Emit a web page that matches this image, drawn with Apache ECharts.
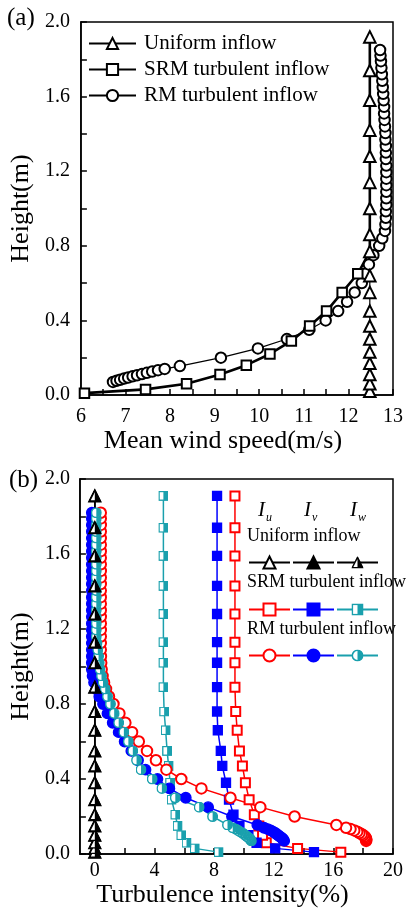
<!DOCTYPE html>
<html><head><meta charset="utf-8">
<script src="https://cdn.jsdelivr.net/npm/echarts@6/dist/echarts.min.js"></script>
<style>html,body{margin:0;padding:0;background:#fff}#c{width:406px;height:909px}</style>
</head><body><div id="c"></div>
<script>
// ---------- (a) Mean wind speed profiles ----------
const uniformHeightA = [0.02,0.06,0.11,0.17,0.23,0.30,0.37,0.45,0.55,0.64,0.77,0.86,1.00,1.14,1.28,1.42,1.58,1.74,1.92];
const uniformSpeedA  = [12.48,12.48,12.48,12.48,12.48,12.48,12.48,12.48,12.48,12.48,12.48,12.48,12.48,12.48,12.48,12.48,12.48,12.48,12.48];
const srmHeightA = [0.01,0.03,0.06,0.11,0.16,0.22,0.29,0.37,0.45,0.55,0.65,0.77,0.86,1.00,1.14,1.28,1.42,1.58,1.74,1.92];
const srmSpeedA  = [6.08,7.45,8.37,9.12,9.71,10.24,10.72,11.13,11.51,11.86,12.21,12.48,12.48,12.48,12.48,12.48,12.48,12.48,12.48,12.48];
const rmHeightA = [0.070,0.076,0.082,0.088,0.094,0.100,0.106,0.112,0.119,0.126,0.133,0.140,
  0.155,0.20,0.25,0.30,0.35,0.40,0.45,0.50,0.55,0.60,0.65,0.70,0.75,0.80,0.84,
  0.88,0.915,0.95,0.985,1.02,1.055,1.09,1.125,1.16,1.195,1.23,1.265,1.30,1.335,1.37,1.405,1.44,1.475,1.51,1.545,1.58,1.615,1.65,1.685,1.72,1.755,1.79,1.82,1.85];
const rmSpeedA = [6.72,6.80,6.88,6.97,7.06,7.16,7.26,7.37,7.48,7.60,7.73,7.88,
  8.22,9.14,9.97,10.62,11.12,11.49,11.77,11.97,12.14,12.30,12.38,12.46,12.56,12.69,12.76,
  12.82,12.83,12.84,12.84,12.85,12.85,12.85,12.85,12.85,12.85,12.85,12.84,12.84,12.84,12.83,12.83,12.82,12.81,12.80,12.80,12.79,12.78,12.77,12.76,12.75,12.74,12.73,12.72,12.71];

// ---------- (b) Turbulence intensity profiles ----------
const uniformHeightB = [0.01,0.03,0.06,0.10,0.15,0.21,0.29,0.38,0.47,0.55,0.66,0.76,0.89,1.02,1.13,1.28,1.43,1.59,1.74,1.91];
const uniformIu = [0,0,0,0,0,0,0,0,0,0,0,0,0,0,0,0,0,0,0,0];
const uniformIv = [0,0,0,0,0,0,0,0,0,0,0,0,0,0,0,0,0,0,0,0];
const uniformIw = [0,0,0,0,0,0,0,0,0,0,0,0,0,0,0,0,0,0,0,0];
const srmHeightB = [0.01,0.03,0.06,0.10,0.15,0.21,0.29,0.38,0.47,0.55,0.66,0.76,0.89,1.02,1.13,1.28,1.43,1.59,1.74,1.91];
const srmIu = [16.5,13.6,11.5,11.25,11.0,10.7,10.35,10.1,9.9,9.7,9.55,9.45,9.4,9.4,9.4,9.4,9.4,9.4,9.4,9.4];
const srmIv = [14.7,12.1,10.85,10.3,9.7,9.3,9.0,8.8,8.55,8.45,8.25,8.2,8.2,8.2,8.2,8.2,8.2,8.2,8.2,8.2];
const srmIw = [8.3,6.7,6.15,5.8,5.55,5.4,5.15,5.05,4.95,4.85,4.75,4.65,4.6,4.6,4.6,4.6,4.6,4.6,4.6,4.6];
const rmHeightB = [0.070,0.076,0.082,0.088,0.094,0.100,0.106,0.112,0.119,0.126,0.133,0.140,
  0.155,0.20,0.25,0.30,0.35,0.40,0.45,0.50,0.55,0.60,0.65,0.70,0.75,0.80,0.84,
  0.88,0.915,0.95,0.985,1.02,1.055,1.09,1.125,1.16,1.195,1.23,1.265,1.30,1.335,1.37,1.405,1.44,1.475,1.51,1.545,1.58,1.615,1.65,1.685,1.72,1.755,1.79,1.82];
const rmIu = [18.2,18.2,18.2,18.15,18.1,18.0,17.9,17.75,17.6,17.4,17.15,16.85,
  16.2,13.4,11.1,9.1,7.15,5.8,4.8,4.1,3.5,2.95,2.5,2.05,1.65,1.25,0.95,
  0.75,0.62,0.52,0.46,0.43,0.41,0.40,0.40,0.40,0.40,0.40,0.40,0.40,0.40,0.40,0.40,0.40,0.40,0.40,0.40,0.40,0.40,0.40,0.40,0.40,0.40,0.40,0.40];
const rmIv = [12.7,12.65,12.6,12.5,12.4,12.3,12.2,12.1,11.95,11.8,11.6,11.35,
  10.9,9.2,7.6,6.1,5.0,4.2,3.4,2.9,2.45,2.0,1.6,1.2,0.85,0.55,0.3,
  0.1,-0.05,-0.15,-0.2,-0.2,-0.2,-0.2,-0.2,-0.2,-0.2,-0.2,-0.2,-0.2,-0.2,-0.2,-0.2,-0.2,-0.2,-0.2,-0.2,-0.2,-0.2,-0.2,-0.2,-0.2,-0.2,-0.2,-0.2];
const rmIw = [10.5,10.45,10.4,10.3,10.2,10.1,10.0,9.9,9.75,9.6,9.45,9.25,
  8.9,7.9,7.0,5.4,4.5,3.85,3.1,2.8,2.55,2.25,1.95,1.6,1.3,1.05,0.85,
  0.7,0.55,0.45,0.35,0.3,0.25,0.2,0.15,0.1,0.1,0.1,0.1,0.1,0.1,0.1,0.1,0.1,0.1,0.1,0.1,0.1,0.1,0.1,0.1,0.1,0.1,0.1,0.1];

// ---------- tick labels ----------
const speedTicks = [6,7,8,9,10,11,12,13];
const heightTicks = [0,0.4,0.8,1.2,1.6,2.0];
const tiTicks = [0,4,8,12,16,20];
const tiMinorTicks = [0,2,4,6,8,10,12,14,16,18,20];

// ---------- styling helpers ----------
const FONT = 'Liberation Serif';
const RED = '#ff0000', BLUE = '#0000ff', TEAL = '#1aa0ad', BLACK = '#000000';
const pair = (xs, ys) => xs.map((x, i) => [x, ys[i]]);
const svgSym = body => 'image://data:image/svg+xml;charset=utf-8,' + encodeURIComponent(
  '<svg xmlns="http://www.w3.org/2000/svg" width="24" height="24" viewBox="0 0 24 24">' + body + '</svg>');
const halfSquare = c => svgSym('<rect x="1.6" y="1.6" width="20.8" height="20.8" fill="#fff" stroke="' + c + '" stroke-width="3.2"/><rect x="12" y="1.6" width="10.4" height="20.8" fill="' + c + '"/>');
const halfCircle = c => svgSym('<circle cx="12" cy="12" r="10.4" fill="#fff" stroke="' + c + '" stroke-width="3.2"/><path d="M12 1.6 A10.4 10.4 0 0 1 12 22.4 Z" fill="' + c + '"/>');
const halfTriangle = c => svgSym('<path d="M12 1.8 L22.6 22.4 L1.4 22.4 Z" fill="#fff" stroke="' + c + '" stroke-width="3"/><path d="M12 1.8 L22.6 22.4 L12 22.4 Z" fill="' + c + '"/>');
const isTick = (list, v) => list.some(t => Math.abs(t - v) < 1e-6);

function mk(name, xi, data, color, symbol, size, lw, extra) {
  return Object.assign({
    name, type: 'line', xAxisIndex: xi, yAxisIndex: xi, data,
    symbol, symbolSize: size, showSymbol: true,
    lineStyle: {color, width: lw},
    itemStyle: {color, borderColor: color, borderWidth: 1.3},
    emphasis: {disabled: true}, silent: true
  }, extra || {});
}

const axisCommon = {
  axisLine: {show: true, onZero: false, lineStyle: {color: '#000', width: 1.5}},
  axisTick: {show: true, inside: true, length: 6, lineStyle: {color: '#000', width: 1.5}},
  splitLine: {show: false},
  nameTextStyle: {fontFamily: FONT, fontSize: 26, color: '#000'}
};
const labelStyle = {fontFamily: FONT, fontSize: 20, color: '#000'};

const legendText = {fontFamily: FONT, fontSize: 21, color: '#000', padding: [0, 0, 0, 3]};
const blankLegend = (names, top) => ({
  data: names, left: 243, top, orient: 'horizontal', itemWidth: 41, itemHeight: 15,
  itemGap: 1, formatter: () => '', selectedMode: false, textStyle: {fontSize: 1}
});

const titleStyle = (text, left, top, size, extra) => Object.assign({
  text, left, top, padding: 0,
  textStyle: {fontFamily: FONT, fontSize: size, fontWeight: 'normal', color: '#000'}
}, extra || {});
const iRich = {
  i: {fontFamily: FONT, fontStyle: 'italic', fontWeight: 'normal', fontSize: 21, color: '#000'},
  s: {fontFamily: FONT, fontStyle: 'italic', fontWeight: 'normal', fontSize: 12, color: '#000', padding: [16, 0, 0, 1]}
};
const iTitle = (sub, left) => ({
  text: '{i|I}{s|' + sub + '}', left, top: 496, padding: 0,
  textStyle: {fontWeight: 'normal', fontFamily: FONT, rich: iRich}
});

// SRM (a): above the point where it joins the uniform profile, only the line is drawn
const srmDataA = pair(srmSpeedA, srmHeightA).map(p =>
  (p[0] >= uniformSpeedA[0] ? {value: p, symbol: 'none'} : p));

const option = {
  animation: false,
  backgroundColor: '#fff',
  textStyle: {fontFamily: FONT},
  title: [
    titleStyle('(a)', 7, 6, 25),
    titleStyle('(b)', 9, 468, 25),
    iTitle('u', 258), iTitle('v', 304), iTitle('w', 350),
    titleStyle('Uniform inflow', 247, 527, 18),
    titleStyle('SRM turbulent inflow', 247, 573, 18),
    titleStyle('RM turbulent inflow', 247, 620, 18)
  ],
  legend: [
    {data: ['Uniform inflow', 'SRM turbulent inflow', 'RM turbulent inflow'], left: 83, top: 28,
     orient: 'vertical', itemWidth: 47, itemHeight: 14, itemGap: 5, selectedMode: false, textStyle: legendText},
    blankLegend(['Uniform Iu', 'Uniform Iv', 'Uniform Iw'], 550),
    blankLegend(['SRM Iu', 'SRM Iv', 'SRM Iw'], 597),
    blankLegend(['RM Iu', 'RM Iv', 'RM Iw'], 643)
  ],
  grid: [
    {left: 78, top: 22, width: 319, height: 373, show: true, borderColor: '#000', borderWidth: 1.5},
    {left: 78, top: 479, width: 319, height: 375, show: true, borderColor: '#000', borderWidth: 1.5}
  ],
  xAxis: [
    Object.assign({}, axisCommon, {
      gridIndex: 0, type: 'value', min: 6, max: 13, interval: 0.5,
      name: 'Mean wind speed(m/s)', nameLocation: 'middle', nameGap: 30,
      nameTextStyle: Object.assign({}, axisCommon.nameTextStyle, {padding: [0, 28, 0, 0]}),
      axisLabel: Object.assign({}, labelStyle, {margin: 12, formatter: v => isTick(speedTicks, v) ? String(v) : ''})
    }),
    Object.assign({}, axisCommon, {
      gridIndex: 1, type: 'value', min: -1, max: 20,
      name: 'Turbulence intensity(%)', nameLocation: 'middle', nameGap: 23,
      nameTextStyle: Object.assign({}, axisCommon.nameTextStyle, {padding: [0, 28, 0, 0]}),
      axisTick: Object.assign({}, axisCommon.axisTick, {customValues: tiMinorTicks}),
      axisLabel: Object.assign({}, labelStyle, {margin: 7, customValues: tiTicks})
    })
  ],
  yAxis: [
    Object.assign({}, axisCommon, {
      gridIndex: 0, type: 'value', min: 0, max: 2, interval: 0.2,
      name: 'Height(m)', nameLocation: 'middle', nameGap: 29,
      axisLabel: Object.assign({}, labelStyle, {margin: 11, formatter: v => isTick(heightTicks, v) ? v.toFixed(1) : ''})
    }),
    Object.assign({}, axisCommon, {
      gridIndex: 1, type: 'value', min: 0, max: 2, interval: 0.2,
      name: 'Height(m)', nameLocation: 'middle', nameGap: 29,
      axisLabel: Object.assign({}, labelStyle, {margin: 10, formatter: v => isTick(heightTicks, v) ? v.toFixed(1) : ''})
    })
  ],
  series: [
    // (a)
    mk('RM turbulent inflow', 0, pair(rmSpeedA, rmHeightA), BLACK, 'emptyCircle', 10.5, 1.2),
    mk('Uniform inflow', 0, pair(uniformSpeedA, uniformHeightA), BLACK, 'emptyTriangle', 11.5, 1.2),
    mk('SRM turbulent inflow', 0, srmDataA, BLACK, 'emptyRect', 9.5, 2.6),
    // (b) SRM
    mk('SRM Iu', 1, pair(srmIu, srmHeightB), RED, 'emptyRect', 9, 1.5),
    mk('SRM Iv', 1, pair(srmIv, srmHeightB), BLUE, 'rect', 9, 1.5),
    mk('SRM Iw', 1, pair(srmIw, srmHeightB), TEAL, halfSquare(TEAL), 10, 1.5),
    // (b) RM
    mk('RM Iu', 1, pair(rmIu, rmHeightB), RED, 'emptyCircle', 10.5, 1.5),
    mk('RM Iv', 1, pair(rmIv, rmHeightB), BLUE, 'circle', 10.5, 1.5),
    mk('RM Iw', 1, pair(rmIw, rmHeightB), TEAL, halfCircle(TEAL), 11, 1.5),
    // (b) uniform
    mk('Uniform Iu', 1, pair(uniformIu, uniformHeightB), BLACK, 'emptyTriangle', 11, 1.5),
    mk('Uniform Iv', 1, pair(uniformIv, uniformHeightB), BLACK, 'triangle', 11, 1.5),
    mk('Uniform Iw', 1, pair(uniformIw, uniformHeightB), BLACK, halfTriangle(BLACK), 12, 1.5)
  ]
};

const chart = echarts.init(document.getElementById('c'), null, {renderer: 'canvas'});
chart.setOption(option);
</script>
</body></html>
